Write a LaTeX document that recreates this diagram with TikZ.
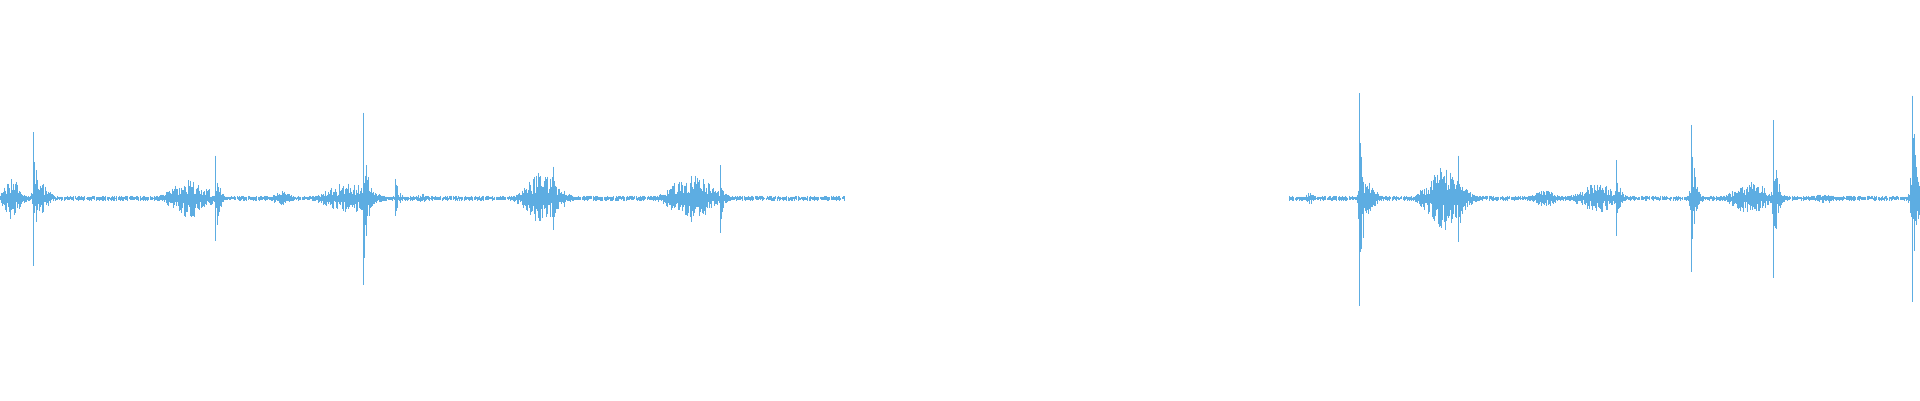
\documentclass[tikz,border=0pt]{standalone}
\definecolor{wave}{HTML}{5DADE2}
\newcommand\mybase[2]{%
\pgfmathtruncatemacro\N{(#2-#1)/0.9}%
\foreach \i in {0,...,\N}{%
\pgfmathsetmacro\xx{#1+0.9*\i}%
\pgfmathsetmacro\u{0.6+1.6*rnd}\pgfmathsetmacro\d{0.6+1.6*rnd}%
\draw (\xx,162-\u)--(\xx,162+\d);}}
\newcommand\myburst[3]{%
\pgfmathtruncatemacro\N{2*#2/0.7}%
\foreach \i in {0,...,\N}{%
\pgfmathsetmacro\xx{#1-#2+0.7*\i}%
\pgfmathsetmacro\t{(\xx-#1)/#2}%
\pgfmathsetmacro\e{#3*exp(-3*\t*\t)}%
\pgfmathsetmacro\u{\e*(0.2+0.8*rnd)}\pgfmathsetmacro\d{\e*(0.2+0.8*rnd)}%
\draw (\xx,162-\u)--(\xx,162+\d);}}
\newcommand\myspike[3]{%
\draw (#1,#2)--(#1,#3);
\foreach \i in {1,...,22}{%
\pgfmathsetmacro\xx{#1+0.6*\i}%
\pgfmathsetmacro\e{exp(-\i/5)}%
\pgfmathsetmacro\u{(162-#2)*\e*(0.2+0.8*rnd)}\pgfmathsetmacro\d{(#3-162)*\e*(0.2+0.8*rnd)}%
\draw (\xx,162-\u)--(\xx,162+\d);}
\foreach \i in {1,...,5}{%
\pgfmathsetmacro\xx{#1-0.6*\i}%
\pgfmathsetmacro\e{0.4*exp(-\i/1.5)}%
\pgfmathsetmacro\u{(162-#2)*\e*rnd}\pgfmathsetmacro\d{(#3-162)*\e*rnd}%
\draw (\xx,162-\u)--(\xx,162+\d);}}
\begin{document}
\begin{tikzpicture}[x=0.1cm,y=-0.1cm,wave,line width=0.06cm]
\pgfmathsetseed{7}
\useasboundingbox[fill=white] (0,0) rectangle (1568,326.7);
\mybase{0}{690}
\mybase{1053}{1568}
% left part
\myburst{10}{14}{18}
\myburst{35}{12}{12}
\myspike{27}{108}{217}
\myburst{155}{32}{16}
\myspike{176}{127}{197}
\myburst{230}{15}{6}
\myburst{285}{38}{13}
\myspike{297}{92}{233}
\myspike{323}{146}{176}
\myburst{345}{8}{4}
\myburst{443}{28}{22}
\myspike{452}{136}{188}
\myburst{565}{35}{20}
\myspike{588}{135}{190}
% right part
\myburst{1070}{8}{5}
\myspike{1110}{76}{250}
\myburst{1118}{12}{14}
\myburst{1180}{30}{26}
\myspike{1191}{127}{198}
\myburst{1262}{20}{7}
\myburst{1305}{30}{12}
\myspike{1320}{131}{193}
\myspike{1381}{102}{222}
\myburst{1430}{30}{14}
\myspike{1448}{98}{227}
\myburst{1490}{20}{4}
\myspike{1562}{78}{247}
\myburst{1563}{6}{30}
\end{tikzpicture}
\end{document}
